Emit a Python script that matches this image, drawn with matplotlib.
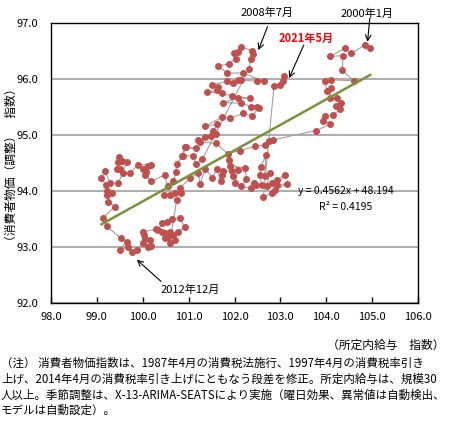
# -*- coding: utf-8 -*-
"""所定内給与と消費者物価（調整）の散布図（時系列を線で結ぶ）。"""

import matplotlib
matplotlib.use("Agg")
import matplotlib.pyplot as plt

plt.rcParams["font.family"] = ["Noto Sans CJK JP", "DejaVu Sans"]

# 所定内給与指数（x）と消費者物価指数（y）、2000年1月→2021年5月の順
wage = [
    104.96, 104.84, 104.54, 104.40, 104.09, 104.37, 104.35, 104.60, 104.10, 103.98,
    104.01, 104.11, 104.08, 104.24, 104.32, 104.22, 104.30, 104.15, 103.97, 103.93,
    104.08, 103.77,
    102.76, 102.83, 102.66, 102.44, 102.12, 101.85, 101.60, 101.25, 101.36, 101.21,
    101.48, 101.60, 101.54, 101.62, 101.36, 101.73, 101.91, 102.19, 102.39, 102.53,
    102.48, 102.36, 102.15, 101.75, 102.07, 102.34, 101.94, 101.72, 101.41, 101.61,
    101.63, 101.50, 101.83, 101.97, 102.08, 102.15, 102.48, 102.64, 102.19, 101.84,
    101.64, 101.88, 102.03, 101.99, 102.08, 102.14, 102.39, 102.41, 102.35, 102.32,
    101.30, 101.16, 101.10, 100.87, 100.94, 101.17, 100.92, 100.86, 100.74, 100.72,
    100.67, 100.54, 100.48, 100.19, 100.05, 100.06, 100.01, 100.12, 100.19, 99.90,
    99.72, 99.57, 99.50, 99.43, 99.47, 99.49, 99.54, 99.65, 99.47, 99.29,
    99.18, 99.10, 99.19, 99.23, 99.32, 99.21, 99.25, 99.39, 99.14, 99.21,
    99.53, 99.65, 99.50, 99.68, 99.76,
    99.87, 100.01, 100.05, 100.03, 100.16, 100.12, 100.19, 100.01, 100.28, 100.34,
    100.42, 100.52, 100.64, 100.81, 100.92, 100.77, 100.67, 100.59, 100.48, 100.41,
    100.48, 100.56, 100.70, 100.59,
    100.74, 100.59, 100.47, 100.70, 100.84, 100.81, 101.03, 101.21, 101.25, 101.36,
    101.52, 101.62, 101.70, 101.72, 101.75, 101.94, 101.97, 102.01, 102.08, 101.88,
    101.90, 102.23, 102.26, 102.15, 102.37, 102.42, 102.47, 102.59, 102.55, 102.58,
    102.68, 102.66, 102.77, 102.70, 102.81, 102.92, 103.10, 102.93, 103.15, 102.88,
    102.81, 102.63,
    102.86, 102.99, 103.05, 103.08,
]
cpi = [
    96.55, 96.61, 96.46, 96.55, 96.41, 96.42, 96.16, 95.97, 95.99, 95.97,
    95.79, 95.84, 95.66, 95.66, 95.58, 95.52, 95.46, 95.36, 95.35, 95.26,
    95.19, 95.08,
    94.90, 94.91, 94.82, 94.80, 94.72, 94.67, 94.85, 94.88, 94.96, 94.92,
    94.98, 95.02, 95.08, 95.19, 95.16, 95.32, 95.30, 95.39, 95.34, 95.49,
    95.51, 95.51, 95.57, 95.58, 95.66, 95.66, 95.70, 95.75, 95.77, 95.81,
    95.86, 95.90, 95.96, 95.93, 95.99, 95.99, 95.96, 95.96, 96.11, 96.11,
    96.24, 96.27, 96.37, 96.47, 96.49, 96.58, 96.51, 96.45, 96.36, 96.19,
    94.57, 94.48, 94.63, 94.63, 94.78, 94.76, 94.79, 94.63, 94.48, 94.33,
    94.17, 94.08, 94.29, 94.17, 94.29, 94.33, 94.39, 94.45, 94.47, 94.47,
    94.32, 94.32, 94.39, 94.39, 94.51, 94.61, 94.54, 94.51, 94.14, 94.14,
    94.35, 94.23, 94.11, 93.99, 93.97, 93.93, 93.81, 93.72, 93.52, 93.37,
    93.15, 93.09, 92.94, 92.99, 92.90,
    92.94, 93.06, 93.14, 93.21, 93.12, 92.99, 93.02, 93.27, 93.31, 93.30,
    93.43, 93.45, 93.49, 93.51, 93.35, 93.27, 93.21, 93.27, 93.24, 93.27,
    93.15, 93.18, 93.12, 93.06,
    93.84, 93.93, 93.93, 93.96, 93.96, 94.05, 94.23, 94.32, 94.13, 94.39,
    94.24, 94.39, 94.17, 94.29, 94.35, 94.36, 94.26, 94.14, 94.38, 94.55,
    94.45, 94.41, 94.21, 94.08, 94.05, 94.14, 94.11, 94.11, 94.29, 94.43,
    94.64, 94.26, 94.32, 94.08, 94.14, 94.20, 94.29, 94.11, 94.13, 94.02,
    93.97, 93.89,
    95.87, 95.90, 95.96, 96.05,
]

# 近似直線 y = 0.4562x + 48.194
slope = 0.4562
intercept = 48.194
r2 = 0.4195

x_ticks = [98.0, 99.0, 100.0, 101.0, 102.0, 103.0, 104.0, 105.0, 106.0]
y_ticks = [92.0, 93.0, 94.0, 95.0, 96.0, 97.0]

note_lines = [
    "（注） 消費者物価指数は、1987年4月の消費税法施行、1997年4月の消費税率引き",
    "上げ、2014年4月の消費税率引き上げにともなう段差を修正。所定内給与は、規模30",
    "人以上。季節調整は、X-13-ARIMA-SEATSにより実施（曜日効果、異常値は自動検出、",
    "モデルは自動設定）。",
]

fig = plt.figure(figsize=(4.5, 4.26), dpi=100)
ax = fig.add_axes([51 / 450, 1 - 302.7 / 426, 367 / 450, 279.4 / 426])

ax.plot(wage, cpi, color="#A0A0A0", lw=0.8, zorder=2)
ax.plot(wage, cpi, ls="none", marker="o", ms=4, color="#C0504D", mec="#C0504D", zorder=3)

x_fit = [min(wage), max(wage)]
y_fit = [slope * v + intercept for v in x_fit]
ax.plot(x_fit, y_fit, color="#77933C", lw=1.8, zorder=4)

ax.set_xlim(98, 106)
ax.set_ylim(92, 97)
ax.set_xticks(x_ticks)
ax.set_yticks(y_ticks)
ax.set_xticklabels([f"{v:.1f}" for v in x_ticks])
ax.set_yticklabels([f"{v:.1f}" for v in y_ticks])
ax.tick_params(axis="x", direction="in", length=4, width=1, pad=7, labelsize=8)
ax.tick_params(axis="y", length=0, pad=9, labelsize=8)
ax.grid(axis="y", color="#A0A0A0", lw=1.2, zorder=1)
for s in ax.spines.values():
    s.set_linewidth(1.0)
    s.set_color("black")

ax.text(104.43, 94.0, f"y = {slope}x + {intercept}", ha="center", va="center", fontsize=7.5, zorder=5)
ax.text(104.43, 93.72, f"R² = {r2}", ha="center", va="center", fontsize=7.5, zorder=5)

arrow = dict(arrowstyle="->", color="black", lw=0.8, shrinkA=0, shrinkB=0)
ax.text(102.72, 97.19, "2008年7月", ha="center", va="center", fontsize=8, clip_on=False)
ax.annotate("", xy=(102.52, 96.52), xytext=(102.72, 96.94), arrowprops=arrow, annotation_clip=False)
ax.text(104.88, 97.18, "2000年1月", ha="center", va="center", fontsize=8, clip_on=False)
ax.annotate("", xy=(104.90, 96.67), xytext=(104.95, 97.09), arrowprops=arrow, annotation_clip=False)
ax.text(103.56, 96.73, "2021年5月", ha="center", va="center", fontsize=8, color="red", fontweight="bold")
ax.annotate("", xy=(103.19, 96.02), xytext=(103.51, 96.61), arrowprops=arrow)
ax.text(101.03, 92.24, "2012年12月", ha="center", va="center", fontsize=8)
ax.annotate("", xy=(99.87, 92.77), xytext=(100.40, 92.38), arrowprops=arrow)

fig.text(11 / 450, 1 - 165 / 426, "（消費者物価（調整）　指数）", rotation=90, ha="center", va="center", fontsize=8.5)
fig.text(386 / 450, 1 - 345 / 426, "（所定内給与　指数）", ha="center", va="center", fontsize=8.5)

for i, line in enumerate(note_lines):
    fig.text(1 / 450, 1 - (363.3 + 15.8 * i) / 426, line, ha="left", va="center", fontsize=8.25)

fig.savefig("out.png", dpi=100)
plt.close(fig)
